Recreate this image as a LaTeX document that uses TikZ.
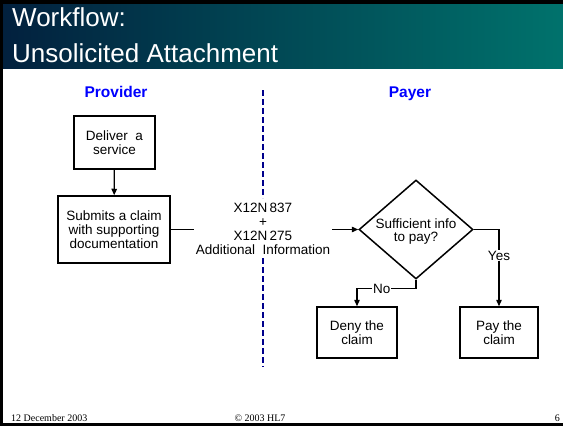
\documentclass[tikz,border=0pt]{standalone}
\usepackage{fontspec}
\setmainfont{Liberation Sans}
\newfontfamily\footfont{Liberation Serif}
\usetikzlibrary{arrows.meta,shapes.geometric}

\definecolor{titleleft}{RGB}{2,32,62}
\definecolor{titleright}{RGB}{0,114,108}
\definecolor{lanecol}{RGB}{0,0,140}
\definecolor{rolecol}{RGB}{0,0,255}

\tikzset{
  box/.style={draw=black, line width=1.5pt, minimum width=#1, align=center,
    font=\fontsize{13.5}{14}\selectfont, inner sep=0pt},
  flow/.style={line width=1.3pt, -{Triangle[length=6.5pt,width=5.5pt]}},
  plain/.style={line width=1.3pt},
  role/.style={text=rolecol, font=\fontsize{15.5}{17}\selectfont\bfseries},
  lane/.style={draw=lanecol, line width=2.6pt, dash pattern=on 6pt off 3pt},
  msg/.style={align=center, font=\fontsize{13.5}{14}\selectfont, inner sep=2pt},
  branch/.style={fill=white, inner sep=1pt, font=\fontsize{13.5}{14}\selectfont},
  foot/.style={font=\footfont\fontsize{10}{12}\selectfont, inner sep=0pt}
}

\begin{document}
\begin{tikzpicture}[x=1pt,y=-1pt]
  \useasboundingbox (0,0) rectangle (563,426);
  \fill[white] (0,0) rectangle (563,426);

  % title bar
  \shade[left color=titleleft, right color=titleright] (0,3) rectangle (563,68);
  \fill[black] (0,0) rectangle (563,3.5);
  \fill[black] (0,0) rectangle (3,426);
  \fill[black] (0,423) rectangle (563,425.5);
  \node[anchor=base west, text=white, font=\fontsize{26}{30}\selectfont, inner sep=0pt]
    (t1) at (12,26) {Workflow:};
  \node[anchor=base west, text=white, font=\fontsize{26}{30}\selectfont, inner sep=0pt]
    (t2) at (12,62) {Unsolicited Attachment};

  % roles
  \node[role, anchor=base] (prov) at (116,97) {Provider};
  \node[role, anchor=base] (payer) at (410,97) {Payer};

  % process boxes
  \node[box=81pt, minimum height=53pt] (deliver) at (114.5,142.5) {Deliver\ \ a\\service};
  \node[box=112pt, minimum height=67pt] (submit) at (114,229.5) {Submits a claim\\with supporting\\documentation};
  \node[draw=black, line width=1.5pt, diamond, minimum width=114pt, minimum height=99pt,
    inner sep=0pt] (dec) at (416,229.5) {};
  \node[align=center, font=\fontsize{13.5}{13}\selectfont, inner sep=0pt] (dectext)
    at (416,231.5) {Sufficient\ info\\to pay?};
  \node[box=80pt, minimum height=51pt] (deny) at (357,332.5) {Deny the\\claim};
  \node[box=78pt, minimum height=51pt] (pay) at (499,332.5) {Pay the\\claim};

  % transaction label on the boundary
  \node[msg] (tx) at (263,229) {X12N\,837\\+\\X12N\,275\\Additional\ \ Information};

  % swim lane boundary, broken around the transaction label
  \coordinate (laneTop) at (263,90);
  \coordinate (gapTop) at (263,198);
  \coordinate (gapBot) at (263,258);
  \coordinate (laneBot) at (263,367);
  \draw[lane] (laneTop) -- (gapTop);
  \draw[lane] (gapBot) -- (laneBot);

  % connectors
  \draw[flow] (deliver) -- (submit);
  \draw[plain] (submit.east) -- (tx.west |- submit.east);
  \draw[flow] (tx.east |- dec.west) -- (dec.west);
  \draw[flow] (dec.east) -| node[branch, pos=0.67] {Yes} (pay.north);
  \draw[flow] (dec.south) -- ++(0,9) coordinate (nobend)
    -| node[branch, pos=0.29] {No} (deny.north);

  % footer
  \node[foot, anchor=base west] (fdate) at (11,421) {12 December 2003};
  \node[foot, anchor=base] (fcopy) at (260,421) {\textcopyright\ 2003 HL7};
  \node[foot, anchor=base east] (fpage) at (560,421) {6};
\end{tikzpicture}
\end{document}
